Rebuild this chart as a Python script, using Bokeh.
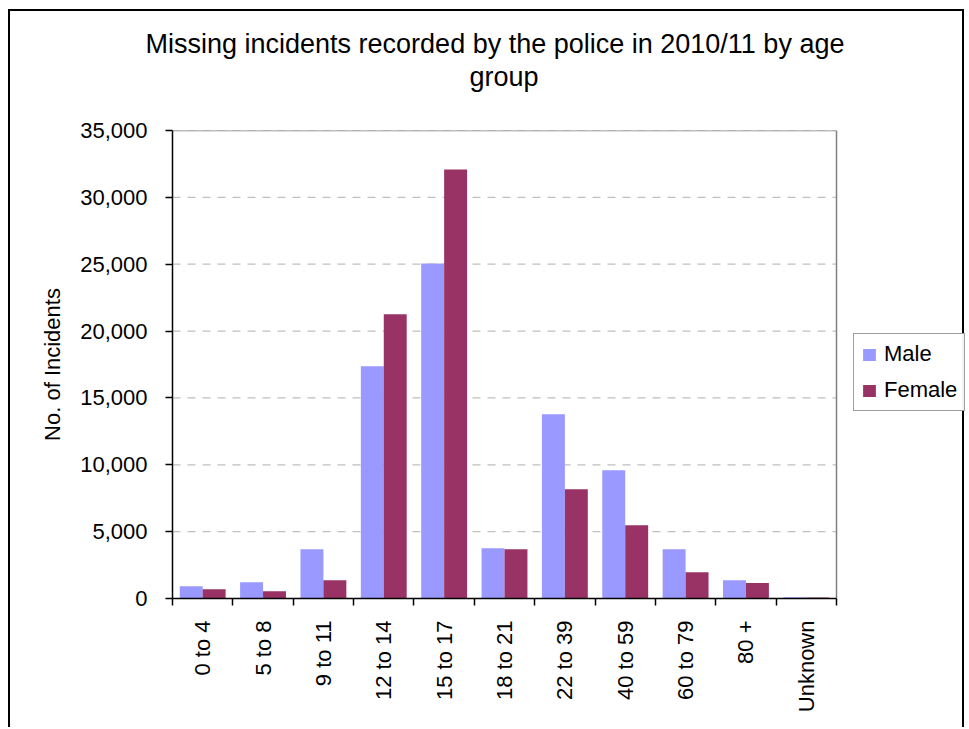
import math
from bokeh.plotting import figure
from bokeh.models import (ColumnDataSource, Range1d, FixedTicker, NumeralTickFormatter,
                          Legend, LegendItem, Title)
from bokeh.embed import file_html
from bokeh.resources import INLINE

# ---- data ----
age_groups = ["0 to 4", "5 to 8", "9 to 11", "12 to 14", "15 to 17", "18 to 21",
              "22 to 39", "40 to 59", "60 to 79", "80 +", "Unknown"]
male = [920, 1220, 3690, 17360, 25060, 3760, 13780, 9600, 3690, 1370, 100]
female = [700, 550, 1370, 21250, 32090, 3690, 8170, 5480, 1970, 1150, 80]
y_ticks = [0, 5000, 10000, 15000, 20000, 25000, 30000, 35000]
title_line1 = "Missing incidents recorded by the police in 2010/11 by age"
title_line2 = "group"
y_label = "No. of Incidents"
series_names = ["Male", "Female"]
colors = ["#9999FF", "#993366"]

FONT = "Liberation Sans"
n = len(age_groups)
bar_w = 0.38
centers = [i + 0.5 for i in range(n)]
y_max = y_ticks[-1]

# layout (pixels on the canvas)
W, H = 956, 718
LEFT, TOP, BOTTOM = 162, 119, 131
PLOT_W = 664                      # width of the bar area
FRAME_W = W - LEFT                # frame reaches the right edge (legend lives there)
x_end = n * FRAME_W / PLOT_W

src_m = ColumnDataSource(dict(x=[c - bar_w / 2 for c in centers], top=male))
src_f = ColumnDataSource(dict(x=[c + bar_w / 2 for c in centers], top=female))

p = figure(width=W, height=H, output_backend="svg", toolbar_location=None,
           x_range=Range1d(0, x_end), y_range=Range1d(0, y_max),
           min_border_left=LEFT, min_border_right=0, min_border_top=TOP,
           min_border_bottom=BOTTOM, title=None)
p.styles = {"margin-left": "8px", "margin-top": "9px",
            "border-left": "2px solid #000", "border-top": "2px solid #000",
            "border-right": "2px solid #000"}

p.background_fill_color = "white"
p.border_fill_color = "white"
p.outline_line_color = None
p.xgrid.grid_line_color = None
p.ygrid.grid_line_color = None

# dashed gridlines limited to the plot area
p.segment(x0=[0] * len(y_ticks), x1=[n] * len(y_ticks), y0=y_ticks, y1=y_ticks,
          line_color="#C0C0C0", line_dash="8 7", line_width=1.2)
# plot-area border (top and right)
p.segment(x0=[0, n], x1=[n, n], y0=[y_max, 0], y1=[y_max, y_max],
          line_color="#808080", line_width=1.5)

r_m = p.vbar(x="x", top="top", width=bar_w, source=src_m, fill_color=colors[0],
             line_color=None)
r_f = p.vbar(x="x", top="top", width=bar_w, source=src_f, fill_color=colors[1],
             line_color=None)

# title (two lines + spacer; nearest-to-frame added first)
spacer = Title(text=" ", align="left", text_font=FONT, text_font_size="27px",
               text_color="white", standoff=7)
t2 = Title(text=title_line2, align="left", offset=297, text_font=FONT,
           text_font_size="27px", text_font_style="normal", text_color="black",
           standoff=0)
t1 = Title(text=title_line1, align="left", offset=-27, text_font=FONT,
           text_font_size="27px", text_font_style="normal", text_color="black",
           standoff=2)
p.add_layout(spacer, "above")
p.add_layout(t2, "above")
p.add_layout(t1, "above")

# y axis
ya = p.yaxis[0]
ya.ticker = FixedTicker(ticks=y_ticks)
ya.formatter = NumeralTickFormatter(format="0,0")
ya.major_label_text_font = FONT
ya.major_label_text_font_size = "22px"
ya.major_label_text_color = "black"
ya.axis_line_color = "black"
ya.axis_line_width = 1.5
ya.major_tick_line_color = "black"
ya.major_tick_line_width = 1.5
ya.major_tick_in = 0
ya.major_tick_out = 7
ya.minor_tick_line_color = None
ya.major_label_standoff = 18
ya.axis_label = y_label
ya.axis_label_text_font = FONT
ya.axis_label_text_font_size = "22px"
ya.axis_label_text_font_style = "normal"
ya.axis_label_text_color = "black"
ya.axis_label_standoff = 12

# x axis: labels at centres, ticks at boundaries, line only under the bars
xa = p.xaxis[0]
xa.bounds = (0, n)
xa.ticker = FixedTicker(ticks=centers, minor_ticks=list(range(n + 1)))
xa.major_label_overrides = {c: lab for c, lab in zip(centers, age_groups)}
xa.major_label_orientation = math.pi / 2
xa.major_label_text_font = FONT
xa.major_label_text_font_size = "22px"
xa.major_label_text_color = "black"
xa.major_tick_line_color = None
xa.major_tick_in = 0
xa.major_tick_out = 0
xa.minor_tick_line_color = "black"
xa.minor_tick_line_width = 1.5
xa.minor_tick_in = 0
xa.minor_tick_out = 7
xa.axis_line_color = "black"
xa.axis_line_width = 1.5
xa.major_label_standoff = 15

legend = Legend(items=[LegendItem(label=series_names[0], renderers=[r_m]),
                       LegendItem(label=series_names[1], renderers=[r_f])],
                location=(PLOT_W + 17, 187), orientation="vertical")
legend.label_text_font = FONT
legend.label_text_font_size = "22px"
legend.label_text_color = "black"
legend.glyph_width = 16
legend.glyph_height = 15
legend.label_standoff = 7
legend.padding = 7
legend.spacing = 10
legend.margin = 0
legend.border_line_color = "#404040"
legend.border_line_width = 1.5
legend.background_fill_color = "white"
legend.label_width = 73
p.add_layout(legend, "center")

open("out.html", "w").write(file_html(p, INLINE))
